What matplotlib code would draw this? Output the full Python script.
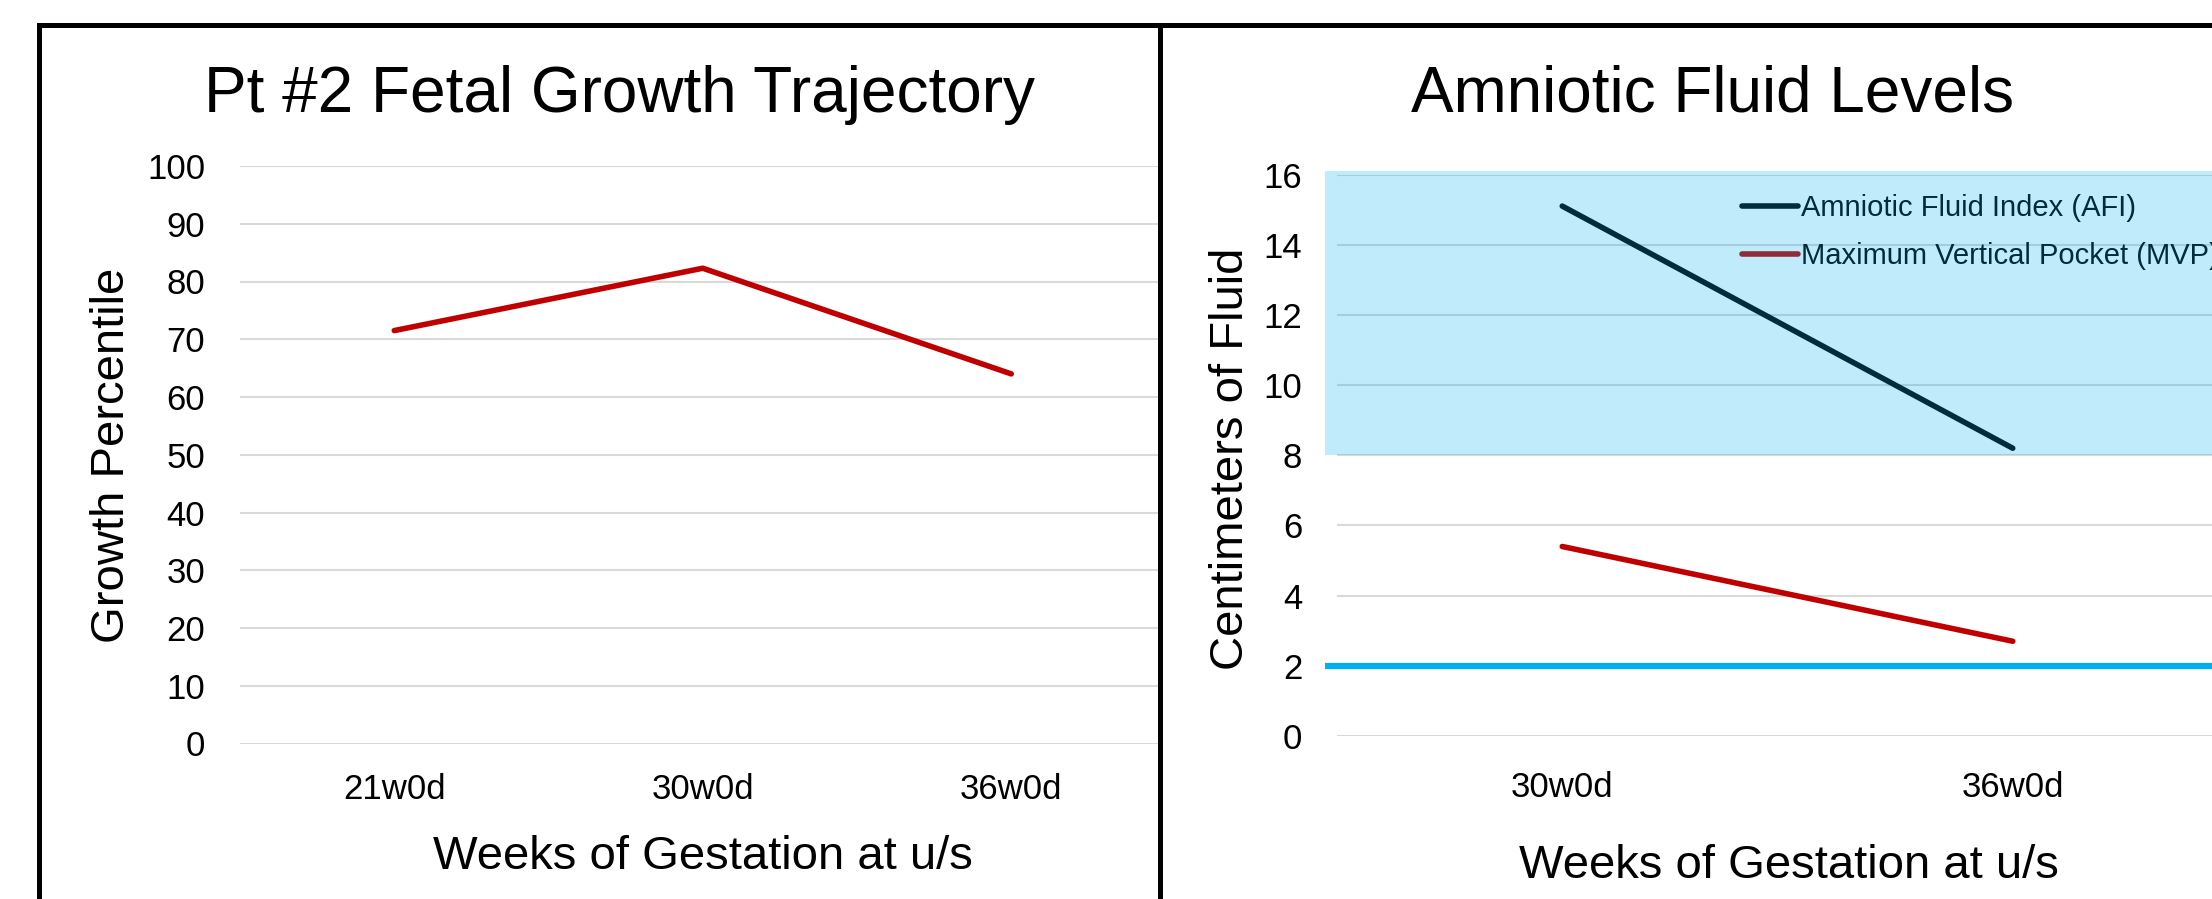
import matplotlib
matplotlib.use("Agg")
import matplotlib.pyplot as plt
from matplotlib.lines import Line2D
from matplotlib.patches import Rectangle

plt.rcParams['font.family'] = ['Liberation Sans', 'DejaVu Sans']

# ---- data -------------------------------------------------------------
growth_weeks = ["21w0d", "30w0d", "36w0d"]
growth_percentile = [71.5, 82.3, 64.0]
growth_ticks = list(range(0, 101, 10))

fluid_weeks = ["30w0d", "36w0d"]
afi_cm = [15.1, 8.2]
mvp_cm = [5.4, 2.7]
fluid_ticks = list(range(0, 17, 2))
afi_normal_band = (8, 16.1)     # shaded normal AFI range (cm)
mvp_threshold = 2               # MVP lower limit (cm)

# ---- figure geometry (pixels) ------------------------------------------
W, H, DPI = 2212, 899, 100
fig = plt.figure(figsize=(W / DPI, H / DPI), dpi=DPI)


def fx(px):
    return px / W


def fy(py):
    return 1 - py / H


def box(x0, y_top, x1, y_bottom):
    return [fx(x0), fy(y_bottom), (x1 - x0) / W, (y_bottom - y_top) / H]


RED = "#C00000"
SKY = "#00B0F0"
GRID = "#D9D9D9"
LW = 4.0

ax1 = fig.add_axes(box(240, 166, 1160, 743.5))
ax2 = fig.add_axes(box(1337, 174.5, 2238, 736))

for ax in (ax1, ax2):
    for s in ax.spines.values():
        s.set_visible(False)
    ax.tick_params(axis="both", length=0, labelsize=25, colors="black")
    ax.tick_params(axis="y", pad=25)
    ax.yaxis.grid(True, color=GRID, linewidth=1.5)
    ax.set_axisbelow(True)
    ax.set_facecolor("none")
ax1.tick_params(axis="x", pad=21)
ax2.tick_params(axis="x", pad=25)

# ---- left: growth percentile -------------------------------------------
xg = range(len(growth_weeks))
ax1.plot(xg, growth_percentile, color=RED, lw=LW, solid_capstyle="round", zorder=3)
ax1.set_xticks(list(xg))
ax1.set_xticklabels(growth_weeks)
ax1.set_yticks(growth_ticks)
ax1.set_ylim(0, 100)
# category slots are 308.5 px wide; the panel is cut at the divider
ax1.set_xlim(-0.5, -0.5 + (1160 - 240) / 308.5)

# ---- right: amniotic fluid ---------------------------------------------
xf = range(len(fluid_weeks))
ax2.plot(xf, afi_cm, color="black", lw=LW, solid_capstyle="round", zorder=3,
         label="Amniotic Fluid Index (AFI)")
ax2.plot(xf, mvp_cm, color=RED, lw=LW, solid_capstyle="round", zorder=3,
         label="Maximum Vertical Pocket (MVP)")
ax2.set_xticks(list(xf))
ax2.set_xticklabels(fluid_weeks)
ax2.set_yticks(fluid_ticks)
ax2.set_ylim(0, 16)
ax2.set_xlim(-0.5, 1.5)

ytr = ax2.get_yaxis_transform()
ext = -12 / (2238 - 1337)
ax2.plot([ext, 1], [mvp_threshold, mvp_threshold], transform=ytr, clip_on=False,
         color=SKY, lw=4.5, zorder=4, solid_capstyle="butt")

leg = ax2.legend(loc="upper left", bbox_to_anchor=(fx(1742), fy(194)),
                 bbox_transform=fig.transFigure, frameon=False, fontsize=21,
                 handlelength=1.93, handletextpad=0.1, labelspacing=0.68,
                 borderpad=0, borderaxespad=0)

ax2.add_patch(Rectangle((ext, afi_normal_band[0]), 1 - ext,
                        afi_normal_band[1] - afi_normal_band[0],
                        transform=ytr, clip_on=False, facecolor=SKY,
                        alpha=0.25, lw=0, zorder=6))

# ---- titles and axis labels --------------------------------------------
fig.text(fx(204), fy(111.7), "Pt #2 Fetal Growth Trajectory", fontsize=46,
         ha="left", va="baseline")
fig.text(fx(1411), fy(111.7), "Amniotic Fluid Levels", fontsize=46,
         ha="left", va="baseline")

fig.text(fx(703), fy(869), "Weeks of Gestation at u/s", fontsize=34,
         ha="center", va="baseline")
fig.text(fx(1789), fy(878), "Weeks of Gestation at u/s", fontsize=34,
         ha="center", va="baseline")

fig.text(fx(90), fy(455), "Growth Percentile", fontsize=34, rotation=90,
         ha="left", va="center")
fig.text(fx(1209), fy(458.5), "Centimeters of Fluid", fontsize=34, rotation=90,
         ha="left", va="center")

# ---- panel frames -------------------------------------------------------
frame = dict(color="black", lw=3.6, solid_capstyle="projecting")
fig.add_artist(Line2D([fx(39), 1.01], [fy(24.5), fy(24.5)], **frame))
fig.add_artist(Line2D([fx(39), fx(39)], [fy(24.5), -0.01], **frame))
fig.add_artist(Line2D([fx(1160), fx(1160)], [fy(24.5), -0.01], **frame))

fig.savefig("out.png", dpi=DPI)
